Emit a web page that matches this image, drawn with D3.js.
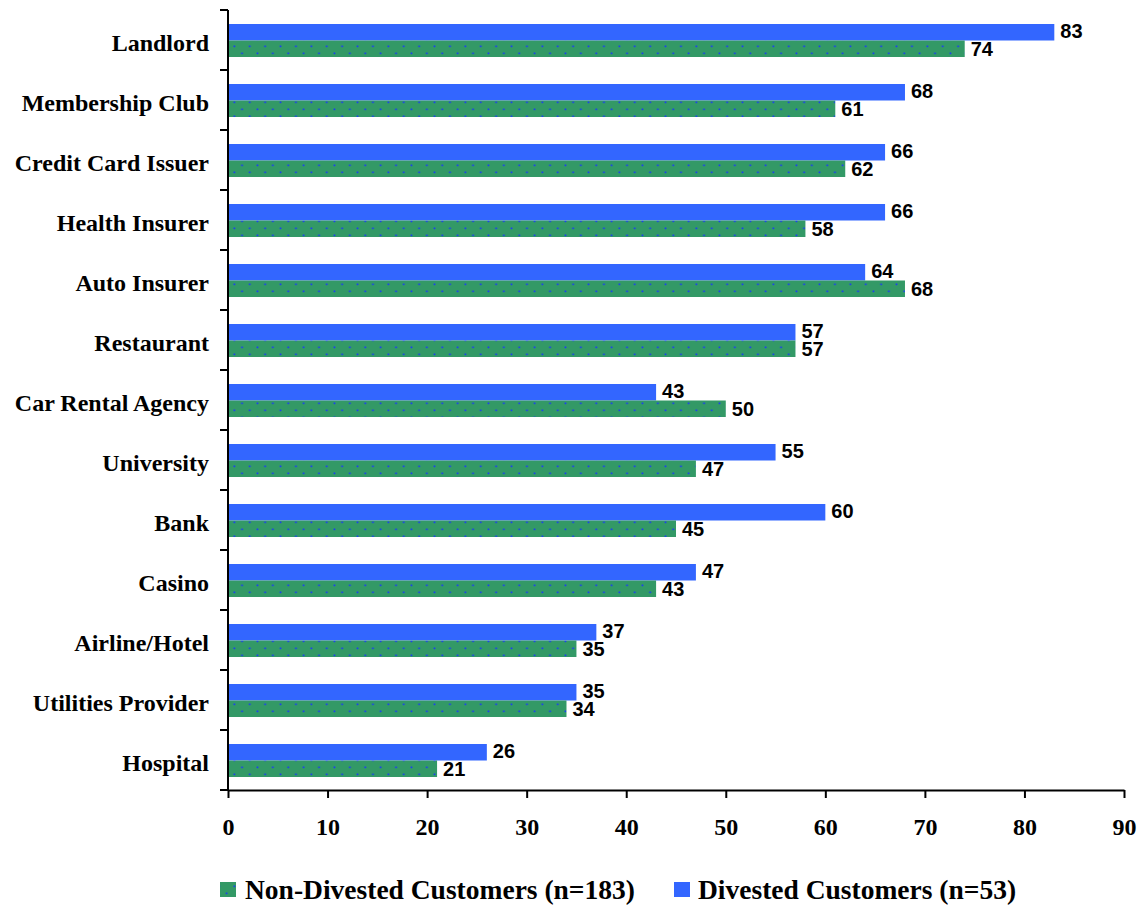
<!DOCTYPE html>
<html>
<head>
<meta charset="utf-8">
<script src="https://cdn.jsdelivr.net/npm/d3@7"></script>
<style>
  body { margin: 0; background: #fff; }
</style>
</head>
<body>
<svg width="1138" height="905"></svg>
<script>
const categories = ["Landlord", "Membership Club", "Credit Card Issuer", "Health Insurer", "Auto Insurer",
  "Restaurant", "Car Rental Agency", "University", "Bank", "Casino", "Airline/Hotel",
  "Utilities Provider", "Hospital"];
const divested = [83, 68, 66, 66, 64, 57, 43, 55, 60, 47, 37, 35, 26];
const nonDivested = [74, 61, 62, 58, 68, 57, 50, 47, 45, 43, 35, 34, 21];
const xTicks = [0, 10, 20, 30, 40, 50, 60, 70, 80, 90];

const serif = "'Liberation Serif', 'Times New Roman', serif";
const sans = "'Liberation Sans', Arial, sans-serif";

const svg = d3.select("svg");
const plotLeft = 228, plotRight = 1124, plotTop = 10, plotBottom = 790;

const x = d3.scaleLinear().domain([0, 90]).range([plotLeft, plotRight]);
const y = d3.scaleBand().domain(categories).range([plotTop, plotBottom]);

// dotted fill for the green series
const defs = svg.append("defs");
const pat = defs.append("pattern")
    .attr("id", "dots")
    .attr("patternUnits", "userSpaceOnUse")
    .attr("width", 15.4).attr("height", 14);
pat.append("rect").attr("width", 15.4).attr("height", 14).attr("fill", "#339966");
pat.append("rect").attr("x", 2.5).attr("y", 3.5).attr("width", 1.7).attr("height", 1.7).attr("fill", "#1a3cf5");
pat.append("rect").attr("x", 10.2).attr("y", 10.5).attr("width", 1.7).attr("height", 1.7).attr("fill", "#1a3cf5");

const barH = 16.5;
const g = svg.append("g");

g.selectAll("rect.div")
  .data(categories)
  .enter().append("rect")
    .attr("class", "div")
    .attr("x", x(0))
    .attr("y", d => y(d) + 14)
    .attr("width", (d, i) => x(divested[i]) - x(0))
    .attr("height", barH)
    .attr("fill", "#3366FF");

g.selectAll("rect.non")
  .data(categories)
  .enter().append("rect")
    .attr("class", "non")
    .attr("x", x(0))
    .attr("y", d => y(d) + 14 + barH)
    .attr("width", (d, i) => x(nonDivested[i]) - x(0))
    .attr("height", barH)
    .attr("fill", "url(#dots)");

// value labels
g.selectAll("text.vd")
  .data(categories)
  .enter().append("text")
    .attr("x", (d, i) => x(divested[i]) + 6)
    .attr("y", d => y(d) + 14 + 14)
    .style("font-family", sans).style("font-weight", "bold").style("font-size", "20px")
    .text((d, i) => divested[i]);

g.selectAll("text.vn")
  .data(categories)
  .enter().append("text")
    .attr("x", (d, i) => x(nonDivested[i]) + 6)
    .attr("y", d => y(d) + 14 + barH + 15)
    .style("font-family", sans).style("font-weight", "bold").style("font-size", "20px")
    .text((d, i) => nonDivested[i]);

// category labels
svg.selectAll("text.cat")
  .data(categories)
  .enter().append("text")
    .attr("text-anchor", "end")
    .attr("x", 209)
    .attr("y", d => y(d) + y.bandwidth() / 2 + 11)
    .style("font-family", serif).style("font-weight", "bold").style("font-size", "24px")
    .text(d => d);

// y axis with ticks at band edges
svg.append("line")
    .attr("x1", plotLeft).attr("x2", plotLeft).attr("y1", plotTop).attr("y2", plotBottom)
    .attr("stroke", "#000").attr("stroke-width", 2);
svg.selectAll("line.ytick")
  .data(categories.concat(["_end"]))
  .enter().append("line")
    .attr("x1", plotLeft - 8).attr("x2", plotLeft)
    .attr("y1", (d, i) => plotTop + i * y.step())
    .attr("y2", (d, i) => plotTop + i * y.step())
    .attr("stroke", "#000").attr("stroke-width", 2);

// x axis
const xAxis = svg.append("g")
    .attr("transform", `translate(0,${plotBottom})`)
    .call(d3.axisBottom(x).tickValues(xTicks).tickSize(8).tickPadding(20).tickSizeOuter(0));
xAxis.select(".domain").attr("stroke-width", 2);
xAxis.selectAll(".tick line").attr("stroke-width", 2);
xAxis.selectAll(".tick text")
    .attr("fill", "#000")
    .style("font-family", serif).style("font-weight", "bold").style("font-size", "24px");

// legend
const leg = svg.append("g")
    .style("font-family", serif).style("font-weight", "bold").style("font-size", "27.5px");
leg.append("rect").attr("x", 220).attr("y", 882).attr("width", 16).attr("height", 15).attr("fill", "url(#dots)");
leg.append("text").attr("x", 245).attr("y", 899).text("Non-Divested Customers (n=183)");
leg.append("rect").attr("x", 674).attr("y", 882).attr("width", 16).attr("height", 15).attr("fill", "#3366FF");
leg.append("text").attr("x", 698).attr("y", 899).text("Divested Customers (n=53)");
</script>
</body>
</html>
